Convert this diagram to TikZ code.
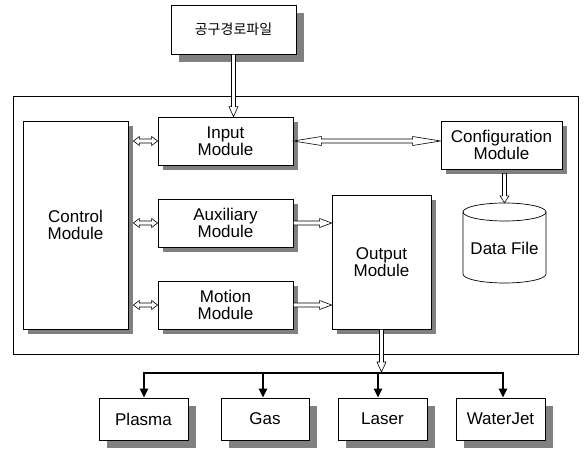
\documentclass[tikz,border=0pt]{standalone}
\usepackage{fontspec}
\setmainfont{Liberation Sans}
\newfontfamily\krfont{Noto Sans CJK KR}
\usetikzlibrary{calc,shadows,arrows.meta}
\definecolor{shadecol}{gray}{0.5}
% point at distance #1 along and #2 across the arrow axis (canvas pt)
\newcommand\arwpt[2]{({\x1+(#1)*\n3-(#2)*\n4},{\y1+(#1)*\n4+(#2)*\n3})}
% hollow single-headed arrow: #1 head length, #2 start, #3 end
\newcommand\hollowarrow[3]{%
  \draw[hollow] let \p1=(#2), \p2=(#3),
        \n2={veclen(\x2-\x1,\y2-\y1)}, \n3={(\x2-\x1)/\n2}, \n4={(\y2-\y1)/\n2} in
    \arwpt{0}{2} -- \arwpt{\n2-#1}{2} -- \arwpt{\n2-#1}{4.5}
    -- \arwpt{\n2}{0} -- \arwpt{\n2-#1}{-4.5} -- \arwpt{\n2-#1}{-2}
    -- \arwpt{0}{-2} -- cycle;}
% hollow double-headed arrow
\newcommand\hollowdarrow[3]{%
  \draw[hollow] let \p1=(#2), \p2=(#3),
        \n2={veclen(\x2-\x1,\y2-\y1)}, \n3={(\x2-\x1)/\n2}, \n4={(\y2-\y1)/\n2} in
    \arwpt{0}{0} -- \arwpt{#1}{4.5} -- \arwpt{#1}{2}
    -- \arwpt{\n2-#1}{2} -- \arwpt{\n2-#1}{4.5}
    -- \arwpt{\n2}{0} -- \arwpt{\n2-#1}{-4.5} -- \arwpt{\n2-#1}{-2}
    -- \arwpt{#1}{-2} -- \arwpt{#1}{-4.5} -- cycle;}
\tikzset{
  txt/.style={font=\fontsize{17}{17}\selectfont},
  plainbox/.style={draw, fill=white, line width=0.7pt, inner sep=0pt, align=center, txt},
  box/.style={plainbox, drop shadow={shadow xshift=5pt, shadow yshift=-5pt, fill=shadecol, opacity=1}},
  bbox/.style={plainbox, drop shadow={shadow xshift=8pt, shadow yshift=-8pt, fill=shadecol, opacity=1}},
  hollow/.style={draw, fill=white, line width=0.6pt, line join=miter},
  bus/.style={line width=2pt, line join=miter},
  bustip/.style={-{Triangle[length=9pt,width=8pt]}}
}
\begin{document}
\begin{tikzpicture}[x=1pt,y=-1pt]
\useasboundingbox (0,0) rectangle (584,450);
% outer frame
\node[draw, line width=0.9pt, minimum width=565pt, minimum height=258pt, inner sep=0pt] (frame) at (295.5,225) {};
% boxes
\node[bbox, font=\krfont\fontsize{14}{17}\selectfont, minimum width=125pt, minimum height=49pt] (tool) at (233.5,29.5) {공구경로파일};
\node[box, minimum width=105pt, minimum height=208pt] (ctrl) at (75.5,225) {Control\\Module};
\node[box, minimum width=135pt, minimum height=48pt] (input) at (225.5,141) {Input\\Module};
\node[box, minimum width=135pt, minimum height=48pt] (aux) at (225.5,223) {Auxiliary\\Module};
\node[box, minimum width=135pt, minimum height=48pt] (motion) at (225.5,305) {Motion\\Module};
\node[box, minimum width=99pt, minimum height=134pt] (output) at (381.5,262) {Output\\Module};
\node[box, minimum width=121pt, minimum height=48pt] (config) at (501.5,145) {Configuration\\Module};
% data file cylinder
\draw[fill=white, line width=0.7pt] (463,212) -- (463,274)
  arc[start angle=180, end angle=360, x radius=41.5pt, y radius=9pt] -- (546,212)
  arc[start angle=0, end angle=180, x radius=41.5pt, y radius=9pt] -- cycle;
\draw[line width=0.7pt] (463,212) arc[start angle=180, end angle=360, x radius=41.5pt, y radius=9pt];
\node[inner sep=0pt, minimum width=83pt, minimum height=80pt] (df) at (504.5,243) {};
\node[txt, inner sep=0pt] (dftext) at ($(df.center)+(0,5)$) {Data File};
% bottom boxes
\node[bbox, minimum width=89pt, minimum height=42pt] (plasma) at (143.5,419) {Plasma};
\node[bbox, minimum width=88pt, minimum height=42pt] (gas) at (265,419) {Gas};
\node[bbox, minimum width=89pt, minimum height=42pt] (laser) at (382.5,419) {Laser};
\node[bbox, minimum width=89pt, minimum height=42pt] (water) at (500.5,419) {WaterJet};
% hollow arrows
\hollowarrow{10}{tool.south}{input.north -| tool.south}
\hollowdarrow{6}{$(ctrl.east |- input.west)+(5,0)$}{input.west}
\hollowdarrow{6}{$(ctrl.east |- aux.west)+(5,0)$}{aux.west}
\hollowdarrow{6}{$(ctrl.east |- motion.west)+(5,0)$}{motion.west}
\hollowdarrow{28}{input.east}{config.west |- input.east}
\hollowarrow{12}{aux.east}{output.west |- aux.east}
\hollowarrow{12}{motion.east}{output.west |- motion.east}
\hollowarrow{7}{$(df.north |- config.south)+(0,4)$}{df.north}
% bus
\coordinate (b1) at (144,373);
\coordinate (b2) at (263,373);
\coordinate (b3) at (378,373);
\coordinate (b4) at (503,373);
\draw[bus, {Triangle[length=9pt,width=8pt]}-{Triangle[length=9pt,width=8pt]}]
  (b1 |- plasma.north) -- (b1) -- (b4) -- (b4 |- water.north);
\draw[bus, bustip] (b2) -- (b2 |- gas.north);
\draw[bus, bustip] (b3) -- (b3 |- laser.north);
\hollowarrow{10}{output.south}{$(output.south |- b1)+(0,-1)$}
\end{tikzpicture}
\end{document}
